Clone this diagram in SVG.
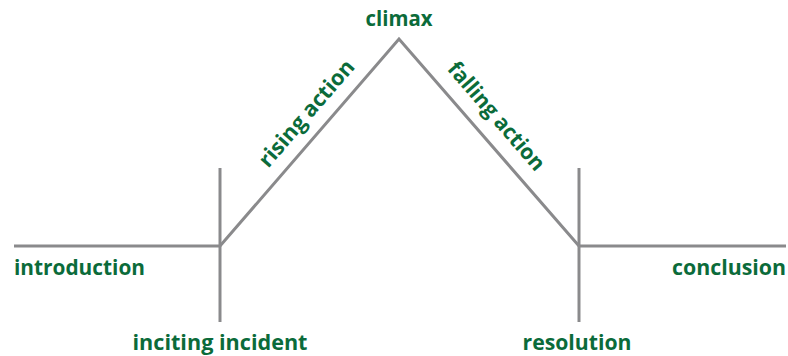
<svg xmlns="http://www.w3.org/2000/svg" width="788" height="356" viewBox="0 0 788 356">
<style>
.ln{stroke:#8a8a8c;stroke-width:3;fill:none;stroke-linecap:butt;stroke-linejoin:miter}
.lb{font-family:"Open Sans","Liberation Sans",sans-serif;font-weight:700;font-size:21.5px;fill:#0b6b3a}
</style>
<rect width="788" height="356" fill="#fff"/>
<g id="connectors">
<polyline class="ln" points="14,246 220,246 399,39 579,246 786,246"/>
<line class="ln" x1="220" y1="168" x2="220" y2="322"/>
<line class="ln" x1="579" y1="168" x2="579" y2="322"/>
</g>
<g id="introduction"><text class="lb" x="14" y="275" textLength="131" lengthAdjust="spacingAndGlyphs">introduction</text></g>
<g id="inciting-incident"><text class="lb" x="132.5" y="350" textLength="175" lengthAdjust="spacingAndGlyphs">inciting incident</text></g>
<g id="rising-action"><text class="lb" transform="translate(312,118) rotate(-49.1)" x="0" y="0" text-anchor="middle" textLength="134" lengthAdjust="spacingAndGlyphs">rising action</text></g>
<g id="climax"><text class="lb" x="365.5" y="26" textLength="67" lengthAdjust="spacingAndGlyphs">climax</text></g>
<g id="falling-action"><text class="lb" transform="translate(491,121) rotate(49.1)" x="0" y="0" text-anchor="middle" textLength="136" lengthAdjust="spacingAndGlyphs">falling action</text></g>
<g id="resolution"><text class="lb" x="522.5" y="350" textLength="109" lengthAdjust="spacingAndGlyphs">resolution</text></g>
<g id="conclusion"><text class="lb" x="672" y="275" textLength="114" lengthAdjust="spacingAndGlyphs">conclusion</text></g>
</svg>
